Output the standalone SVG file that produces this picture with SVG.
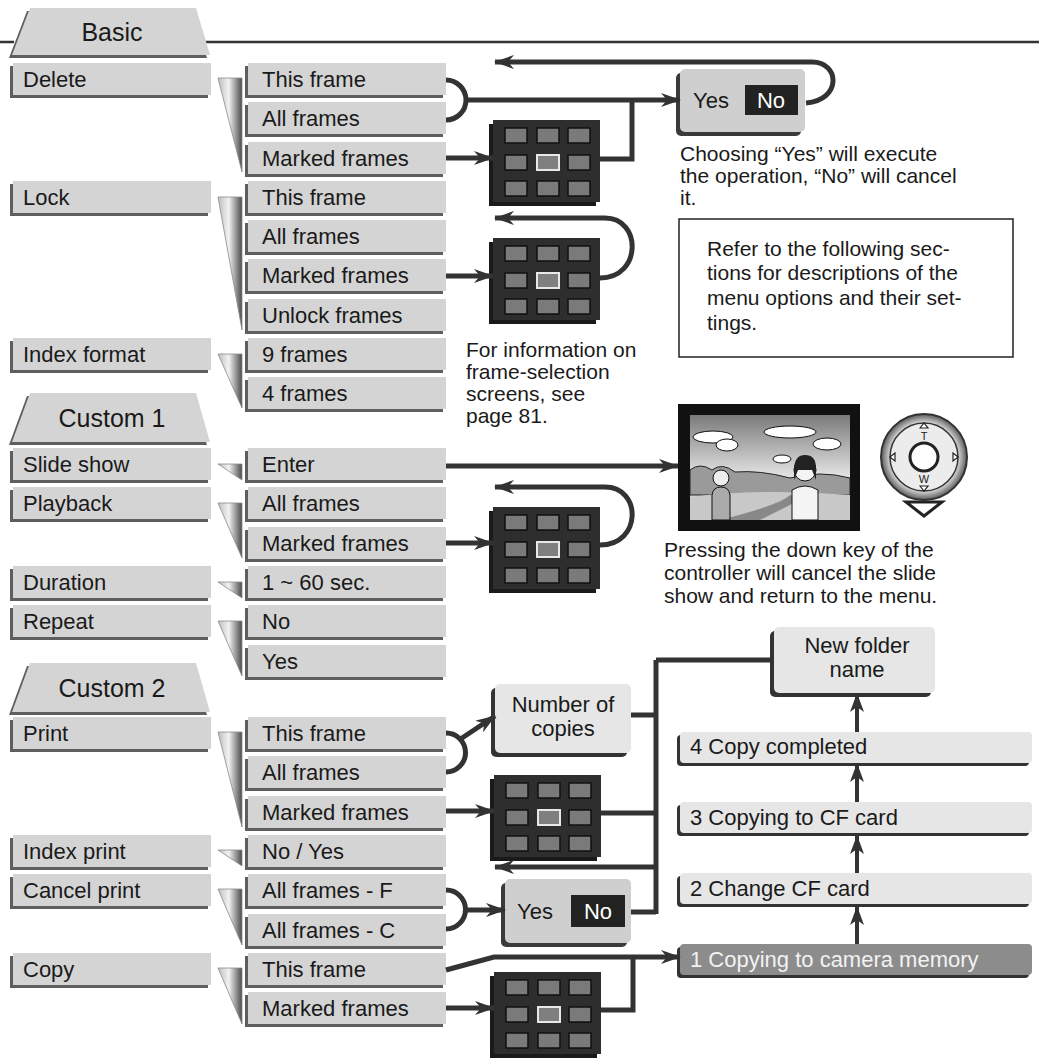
<svg xmlns="http://www.w3.org/2000/svg" width="1039" height="1059" viewBox="0 0 1039 1059">
<defs>
<style>
text{font-family:"Liberation Sans",Arial,sans-serif;fill:#1a1a1a}
.bt{font-size:22px}
.tt{font-size:25px;text-anchor:middle}
.body{font-size:21px}
.sh{fill:#5e5e5e}
.bx{fill:#d4d4d4}
.rb{fill:#e6e6e6}
.c{fill:none;stroke:#333;stroke-width:5}
.ca{fill:none;stroke:#333;stroke-width:5;marker-end:url(#ah)}
.cu{fill:none;stroke:#333;stroke-width:4;marker-end:url(#ah2)}
.cell{fill:#7a7a7a;stroke:#111;stroke-width:1.5}
.wd{fill:url(#wg);stroke:#8a8a8a;stroke-width:0.8}
</style>
<marker id="ah" viewBox="0 0 20 14" refX="19" refY="7" markerWidth="20" markerHeight="14" markerUnits="userSpaceOnUse" orient="auto"><path d="M0,0 L20,7 L0,14 L6,7 z" fill="#333"/></marker>
<marker id="ah2" viewBox="0 0 14 20" refX="7" refY="1" markerWidth="14" markerHeight="20" markerUnits="userSpaceOnUse" orient="0"><path d="M0,19 L7,0 L14,19 L7,14 z" fill="#333"/></marker>
<linearGradient id="wg" x1="0" y1="0" x2="1" y2="0"><stop offset="0" stop-color="#bdbdbd"/><stop offset="0.45" stop-color="#f2f2f2"/><stop offset="1" stop-color="#4a4a4a"/></linearGradient>
<linearGradient id="sky" x1="0" y1="0" x2="0" y2="1"><stop offset="0" stop-color="#7a7a7a"/><stop offset="0.6" stop-color="#e6e6e6"/><stop offset="1" stop-color="#bdbdbd"/></linearGradient>
<radialGradient id="rg"><stop offset="0.75" stop-color="#f2f2f2"/><stop offset="1" stop-color="#5a5a5a"/></radialGradient>
<g id="grid">
<rect x="-4" y="4" width="107" height="82" fill="#1a1a1a"/>
<rect x="0" y="0" width="107" height="82" fill="#2e2e2e"/>
<rect class="cell" x="12" y="8" width="22" height="15"/><rect class="cell" x="44" y="8" width="22" height="15"/><rect class="cell" x="75" y="8" width="22" height="15"/>
<rect class="cell" x="12" y="35" width="22" height="15"/><rect x="44" y="35" width="22" height="15" fill="#7f7f7f" stroke="#e8e8e8" stroke-width="2"/><rect class="cell" x="75" y="35" width="22" height="15"/>
<rect class="cell" x="12" y="61" width="22" height="15"/><rect class="cell" x="44" y="61" width="22" height="15"/><rect class="cell" x="75" y="61" width="22" height="15"/>
</g>
</defs>
<rect width="1039" height="1059" fill="#fff"/>
<path d="M0,42 H14 M205,42 H1039" stroke="#333" stroke-width="2.5"/>

<g id="tabs">
<polygon points="9,58 27,11 193,11 207,58" class="sh"/>
<polygon points="12,55 30,8 196,8 210,55" class="bx"/>
<text class="tt" x="112" y="41">Basic</text>
<polygon points="9,445 27,396 193,396 207,445" class="sh"/>
<polygon points="12,442 30,393 196,393 210,442" class="bx"/>
<text class="tt" x="112" y="427">Custom 1</text>
<polygon points="9,715 27,666 193,666 207,715" class="sh"/>
<polygon points="12,712 30,663 196,663 210,712" class="bx"/>
<text class="tt" x="112" y="697">Custom 2</text>
</g>

<g id="left-menu">
<rect class="sh" x="10" y="66" width="198" height="32"/><rect class="bx" x="13" y="63" width="198" height="32"/><text class="bt" x="23" y="87">Delete</text>
<rect class="sh" x="10" y="184" width="198" height="32"/><rect class="bx" x="13" y="181" width="198" height="32"/><text class="bt" x="23" y="205">Lock</text>
<rect class="sh" x="10" y="341" width="198" height="32"/><rect class="bx" x="13" y="338" width="198" height="32"/><text class="bt" x="23" y="362">Index format</text>
<rect class="sh" x="10" y="451" width="198" height="32"/><rect class="bx" x="13" y="448" width="198" height="32"/><text class="bt" x="23" y="472">Slide show</text>
<rect class="sh" x="10" y="490" width="198" height="32"/><rect class="bx" x="13" y="487" width="198" height="32"/><text class="bt" x="23" y="511">Playback</text>
<rect class="sh" x="10" y="569" width="198" height="32"/><rect class="bx" x="13" y="566" width="198" height="32"/><text class="bt" x="23" y="590">Duration</text>
<rect class="sh" x="10" y="608" width="198" height="32"/><rect class="bx" x="13" y="605" width="198" height="32"/><text class="bt" x="23" y="629">Repeat</text>
<rect class="sh" x="10" y="720" width="198" height="32"/><rect class="bx" x="13" y="717" width="198" height="32"/><text class="bt" x="23" y="741">Print</text>
<rect class="sh" x="10" y="838" width="198" height="32"/><rect class="bx" x="13" y="835" width="198" height="32"/><text class="bt" x="23" y="859">Index print</text>
<rect class="sh" x="10" y="877" width="198" height="32"/><rect class="bx" x="13" y="874" width="198" height="32"/><text class="bt" x="23" y="898">Cancel print</text>
<rect class="sh" x="10" y="956" width="198" height="32"/><rect class="bx" x="13" y="953" width="198" height="32"/><text class="bt" x="23" y="977">Copy</text>
</g>

<g id="wedges">
<polygon class="wd" points="218,78 242,78 242,172"/>
<polygon class="wd" points="218,197 242,197 242,330"/>
<polygon class="wd" points="218,354 242,354 242,408"/>
<polygon class="wd" points="218,464 242,464 242,480"/>
<polygon class="wd" points="218,503 242,503 242,558"/>
<polygon class="wd" points="218,582 242,582 242,598"/>
<polygon class="wd" points="218,621 242,621 242,676"/>
<polygon class="wd" points="218,732 242,732 242,827"/>
<polygon class="wd" points="218,850 242,850 242,866"/>
<polygon class="wd" points="218,889 242,889 242,945"/>
<polygon class="wd" points="218,968 242,968 242,1024"/>
</g>

<g id="options">
<rect class="sh" x="245" y="66" width="198" height="32"/><rect class="bx" x="248" y="63" width="198" height="32"/><text class="bt" x="262" y="87">This frame</text>
<rect class="sh" x="245" y="105" width="198" height="32"/><rect class="bx" x="248" y="102" width="198" height="32"/><text class="bt" x="262" y="126">All frames</text>
<rect class="sh" x="245" y="145" width="198" height="32"/><rect class="bx" x="248" y="142" width="198" height="32"/><text class="bt" x="262" y="166">Marked frames</text>
<rect class="sh" x="245" y="184" width="198" height="32"/><rect class="bx" x="248" y="181" width="198" height="32"/><text class="bt" x="262" y="205">This frame</text>
<rect class="sh" x="245" y="223" width="198" height="32"/><rect class="bx" x="248" y="220" width="198" height="32"/><text class="bt" x="262" y="244">All frames</text>
<rect class="sh" x="245" y="262" width="198" height="32"/><rect class="bx" x="248" y="259" width="198" height="32"/><text class="bt" x="262" y="283">Marked frames</text>
<rect class="sh" x="245" y="302" width="198" height="32"/><rect class="bx" x="248" y="299" width="198" height="32"/><text class="bt" x="262" y="323">Unlock frames</text>
<rect class="sh" x="245" y="341" width="198" height="32"/><rect class="bx" x="248" y="338" width="198" height="32"/><text class="bt" x="262" y="362">9 frames</text>
<rect class="sh" x="245" y="380" width="198" height="32"/><rect class="bx" x="248" y="377" width="198" height="32"/><text class="bt" x="262" y="401">4 frames</text>
<rect class="sh" x="245" y="451" width="198" height="32"/><rect class="bx" x="248" y="448" width="198" height="32"/><text class="bt" x="262" y="472">Enter</text>
<rect class="sh" x="245" y="490" width="198" height="32"/><rect class="bx" x="248" y="487" width="198" height="32"/><text class="bt" x="262" y="511">All frames</text>
<rect class="sh" x="245" y="530" width="198" height="32"/><rect class="bx" x="248" y="527" width="198" height="32"/><text class="bt" x="262" y="551">Marked frames</text>
<rect class="sh" x="245" y="569" width="198" height="32"/><rect class="bx" x="248" y="566" width="198" height="32"/><text class="bt" x="262" y="590">1 ~ 60 sec.</text>
<rect class="sh" x="245" y="608" width="198" height="32"/><rect class="bx" x="248" y="605" width="198" height="32"/><text class="bt" x="262" y="629">No</text>
<rect class="sh" x="245" y="648" width="198" height="32"/><rect class="bx" x="248" y="645" width="198" height="32"/><text class="bt" x="262" y="669">Yes</text>
<rect class="sh" x="245" y="720" width="198" height="32"/><rect class="bx" x="248" y="717" width="198" height="32"/><text class="bt" x="262" y="741">This frame</text>
<rect class="sh" x="245" y="759" width="198" height="32"/><rect class="bx" x="248" y="756" width="198" height="32"/><text class="bt" x="262" y="780">All frames</text>
<rect class="sh" x="245" y="799" width="198" height="32"/><rect class="bx" x="248" y="796" width="198" height="32"/><text class="bt" x="262" y="820">Marked frames</text>
<rect class="sh" x="245" y="838" width="198" height="32"/><rect class="bx" x="248" y="835" width="198" height="32"/><text class="bt" x="262" y="859">No / Yes</text>
<rect class="sh" x="245" y="877" width="198" height="32"/><rect class="bx" x="248" y="874" width="198" height="32"/><text class="bt" x="262" y="898">All frames - F</text>
<rect class="sh" x="245" y="917" width="198" height="32"/><rect class="bx" x="248" y="914" width="198" height="32"/><text class="bt" x="262" y="938">All frames - C</text>
<rect class="sh" x="245" y="956" width="198" height="32"/><rect class="bx" x="248" y="953" width="198" height="32"/><text class="bt" x="262" y="977">This frame</text>
<rect class="sh" x="245" y="995" width="198" height="32"/><rect class="bx" x="248" y="992" width="198" height="32"/><text class="bt" x="262" y="1016">Marked frames</text>
</g>

<g id="grids">
<use href="#grid" x="493" y="120"/>
<use href="#grid" x="493" y="238"/>
<use href="#grid" x="493" y="507"/>
<use href="#grid" x="494" y="775"/>
<use href="#grid" x="494" y="972"/>
</g>

<g id="yesno1">
<rect x="676" y="73" width="125" height="63" rx="5" fill="#3a3a3a"/>
<rect x="680" y="69" width="125" height="63" rx="5" fill="#cfcfcf"/>
<text class="bt" x="693" y="108">Yes</text>
<rect x="745" y="85" width="53" height="30" fill="#222"/>
<text class="bt" x="771" y="108" text-anchor="middle" style="fill:#fff">No</text>
</g>
<g id="yesno2">
<rect x="501" y="883" width="126" height="64" rx="5" fill="#3a3a3a"/>
<rect x="505" y="879" width="126" height="64" rx="5" fill="#cfcfcf"/>
<text class="bt" x="517" y="919">Yes</text>
<rect x="571" y="895" width="54" height="32" fill="#222"/>
<text class="bt" x="598" y="919" text-anchor="middle" style="fill:#fff">No</text>
</g>

<g id="copies">
<rect x="491" y="688" width="136" height="69" rx="5" fill="#333"/>
<rect x="495" y="684" width="136" height="69" rx="5" fill="#e6e6e6"/>
<text class="bt" x="563" y="712" text-anchor="middle">Number of</text>
<text class="bt" x="563" y="736" text-anchor="middle">copies</text>
</g>
<g id="newfolder">
<rect x="770" y="631" width="161" height="66" rx="5" fill="#333"/>
<rect x="774" y="627" width="161" height="66" rx="5" fill="#e6e6e6"/>
<text class="bt" x="857" y="653" text-anchor="middle">New folder</text>
<text class="bt" x="857" y="677" text-anchor="middle">name</text>
</g>
<g id="steps">
<rect x="677" y="735" width="352" height="31" rx="4" fill="#333"/><rect x="680" y="732" width="352" height="31" rx="4" class="rb"/><text class="bt" x="690" y="754">4 Copy completed</text>
<rect x="677" y="805" width="352" height="31" rx="4" fill="#333"/><rect x="680" y="802" width="352" height="31" rx="4" class="rb"/><text class="bt" x="690" y="825">3 Copying to CF card</text>
<rect x="677" y="876" width="352" height="31" rx="4" fill="#333"/><rect x="680" y="873" width="352" height="31" rx="4" class="rb"/><text class="bt" x="690" y="896">2 Change CF card</text>
<rect x="677" y="947" width="352" height="31" rx="4" fill="#333"/><rect x="680" y="944" width="352" height="31" rx="4" fill="#8c8c8c"/><text class="bt" x="690" y="967" style="fill:#f2f2f2">1 Copying to camera memory</text>
</g>

<g id="photo">
<rect x="678" y="404" width="182" height="127" fill="#111"/>
<rect x="690" y="415" width="160" height="105" fill="url(#sky)"/>
<g fill="#fff" stroke="#111" stroke-width="1">
<ellipse cx="713" cy="437" rx="20" ry="6"/><ellipse cx="727" cy="445" rx="11" ry="6"/>
<ellipse cx="790" cy="432" rx="26" ry="6"/><ellipse cx="827" cy="444" rx="14" ry="6"/>
<ellipse cx="782" cy="459" rx="9" ry="4"/>
</g>
<path d="M690,495 L690,470 Q700,462 712,470 Q722,462 735,472 Q760,470 790,478 Q820,470 850,478 L850,495 Z" fill="#9a9a9a" stroke="#222" stroke-width="1"/>
<path d="M690,520 L690,497 Q760,488 850,495 L850,520 Z" fill="#c8c8c8"/>
<path d="M720,520 Q780,505 790,495 Q800,498 790,505 Q770,515 760,520 Z" fill="#888"/>
<path d="M712,520 L712,495 Q713,487 721,487 Q729,487 730,495 L730,520 Z" fill="#aaa" stroke="#111"/>
<circle cx="721" cy="478" r="8" fill="#eee" stroke="#111"/>
<path d="M792,520 L792,490 Q805,482 818,490 L818,520 Z" fill="#f4f4f4" stroke="#111"/>
<circle cx="805" cy="470" r="11" fill="#f4f4f4" stroke="#111"/>
<path d="M794,468 Q795,455 805,455 Q816,455 816,468 L816,480 L812,470 L798,470 L794,480 Z" fill="#222"/>
</g>

<g id="controller">
<circle cx="924" cy="457" r="43" fill="url(#rg)" stroke="#333" stroke-width="2"/>
<circle cx="924" cy="457" r="34" fill="#ececec" stroke="#333" stroke-width="1.5"/>
<circle cx="924" cy="457" r="14" fill="#fff" stroke="#222" stroke-width="3"/>
<path d="M920,428 L924,423 L928,428 Z M920,486 L924,491 L928,486 Z M895,453 L890,457 L895,461 Z M953,453 L958,457 L953,461 Z" fill="#fff" stroke="#222" stroke-width="1.2"/>
<text x="924" y="440" font-size="11" text-anchor="middle">T</text>
<text x="924" y="483" font-size="11" text-anchor="middle">W</text>
<polygon points="906,502 942,502 924,516" fill="#fff" stroke="#222" stroke-width="3"/>
</g>

<g id="connectors">
<path class="c" d="M446,80 A20,20 0 0 1 446,120"/>
<path class="ca" d="M466,100 H680"/>
<path class="ca" d="M446,158 H493"/>
<path class="c" d="M600,159 H632 V100"/>
<path class="ca" d="M806,103 C842,100 840,62 812,62 H495"/>
<path class="ca" d="M446,276 H493"/>
<path class="ca" d="M600,278 C642,278 642,218 605,218 H495"/>
<path class="ca" d="M446,466 H678"/>
<path class="ca" d="M446,543 H493"/>
<path class="ca" d="M600,545 C642,545 642,487 605,487 H495"/>
<path class="c" d="M446,733 A19.5,19.5 0 0 1 446,772"/>
<path class="ca" d="M459,740 L495,716"/>
<path class="c" d="M631,715 H656 M656,660 V914 M656,660 H774"/>
<path class="ca" d="M446,811 H494"/>
<path class="c" d="M601,813 H656"/>
<path class="ca" d="M656,867 H495"/>
<path class="c" d="M446,890 A19.5,19.5 0 0 1 446,929"/>
<path class="ca" d="M466,910 H505"/>
<path class="c" d="M631,912 H656"/>
<path class="ca" d="M446,970 L494,957 H680"/>
<path class="ca" d="M446,1008 H494"/>
<path class="c" d="M601,1010 H633 V957"/>
<path class="cu" d="M857,944 V907"/>
<path class="cu" d="M857,873 V836"/>
<path class="cu" d="M857,802 V764"/>
<path class="cu" d="M857,732 V694"/>
</g>

<g id="notes">
<text class="body" x="680" y="161">Choosing “Yes” will execute</text>
<text class="body" x="680" y="183">the operation, “No” will cancel</text>
<text class="body" x="680" y="205">it.</text>
<rect x="679" y="219" width="334" height="138" fill="none" stroke="#222" stroke-width="1.5"/>
<text class="body" x="707" y="256">Refer to the following sec-</text>
<text class="body" x="707" y="280">tions for descriptions of the</text>
<text class="body" x="707" y="305">menu options and their set-</text>
<text class="body" x="707" y="330">tings.</text>
<text class="body" x="466" y="357">For information on</text>
<text class="body" x="466" y="379">frame-selection</text>
<text class="body" x="466" y="401">screens, see</text>
<text class="body" x="466" y="423">page 81.</text>
<text class="body" x="664" y="557">Pressing the down key of the</text>
<text class="body" x="664" y="580">controller will cancel the slide</text>
<text class="body" x="664" y="603">show and return to the menu.</text>
</g>
</svg>
